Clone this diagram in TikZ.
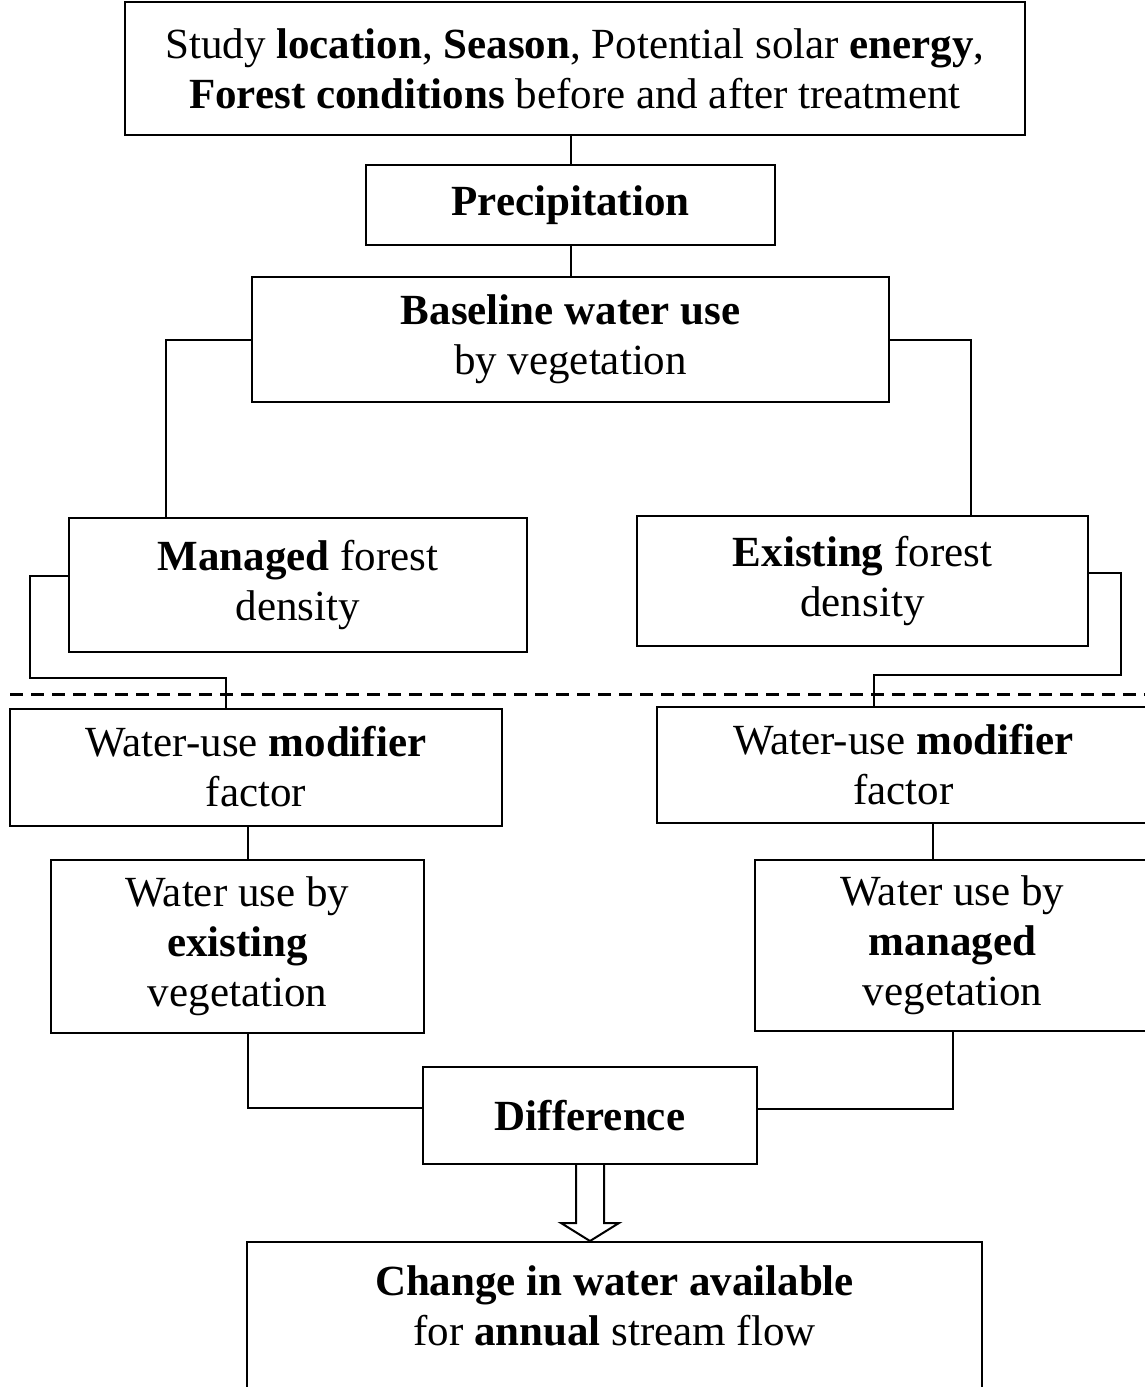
\documentclass[tikz,border=0pt]{standalone}
\usepackage{fontspec}
\setmainfont{Liberation Serif}
\usetikzlibrary{positioning}
\tikzset{box/.style={draw, line width=2pt, align=center, inner sep=0pt, font=\fontsize{43}{50}\selectfont},
link/.style={line width=2pt}}

\begin{document}
\begin{tikzpicture}[x=1pt,y=-1pt]
\useasboundingbox (0,0) rectangle (1145,1387);
\clip (0,0) rectangle (1145,1387);
\node[box, minimum width=900, minimum height=133] (conditions) at (575,68.5) {Study \textbf{location}, \textbf{Season}, Potential solar \textbf{energy},\\ \textbf{Forest conditions} before and after treatment};
\node[box, minimum width=409, minimum height=80] (prec) at (570.5,205) {\textbf{Precipitation}};
\node[box, minimum width=637, minimum height=125] (baseline) at (570.5,339.5) {\textbf{Baseline water use}\\ by vegetation};
\node[box, minimum width=458, minimum height=134] (managed) at (298,585) {\textbf{Managed} forest\\ density};
\node[box, minimum width=451, minimum height=130] (existing) at (862.5,581) {\textbf{Existing} forest\\ density};
\node[box, minimum width=492, minimum height=117] (modleft) at (256,767) {Water-use \textbf{modifier}\\ factor};
\node[box, minimum width=493, minimum height=116] (modright) at (903.5,765) {Water-use \textbf{modifier}\\ factor};
\node[box, minimum width=373, minimum height=173] (useexisting) at (237.5,946.5) {Water use by\\ \textbf{existing}\\ vegetation};
\node[box, minimum width=395, minimum height=171] (usemanaged) at (952.5,945.5) {Water use by\\ \textbf{managed}\\ vegetation};
\node[box, minimum width=334, minimum height=97] (diff) at (590,1115.5) {\textbf{Difference}};
\node[box, anchor=north, minimum width=735, minimum height=170] (change) at (614.5,1241) {};
\node[box, draw=none] (changetext) at ([yshift=-65pt]change.north) {\textbf{Change in water available}\\ for \textbf{annual} stream flow};

\draw[link] (prec.north) -- (prec.north |- conditions.south);
\draw[link] (baseline.north) -- (baseline.north |- prec.south);
\draw[link] (baseline.west) -| ([xshift=98pt]managed.north west);
\draw[link] (baseline.east) -| ([xshift=-118pt]existing.north east);
\draw[link] ([yshift=9pt]managed.west) -| (30,678) -| ([xshift=217pt]modleft.north west);
\draw[link] ([yshift=8pt]existing.east) -| (1121,675) -| ([xshift=-30pt]modright.north);
\draw[line width=3pt, dash pattern=on 13pt off 8pt] (10,694) -- (1145,694);
\draw[link] ([xshift=10pt]useexisting.north) -- ([xshift=10pt]useexisting.north |- modleft.south);
\draw[link] ([xshift=-20pt]usemanaged.north) -- ([xshift=-20pt]usemanaged.north |- modright.south);
\draw[link] ([xshift=10pt]useexisting.south) |- ([yshift=8pt]diff.west);
\draw[link] (usemanaged.south) |- ([yshift=7pt]diff.east);
\draw[link, fill=white] ([xshift=-14pt]diff.south) -- ++(0,58) -- ++(-15,0) -- (diff.south |- change.north) -- ++(29,-18) -- ++(-15,0) -- ++(0,-58);
\end{tikzpicture}
\end{document}
